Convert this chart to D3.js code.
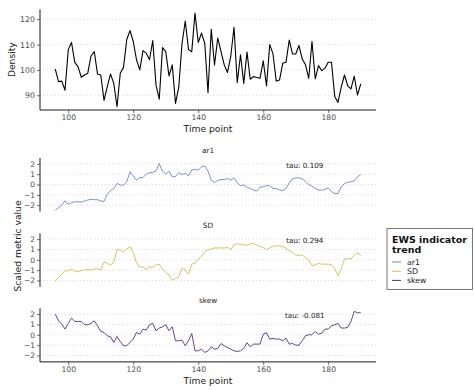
<!DOCTYPE html>
<html><head><meta charset="utf-8">
<script src="https://cdn.jsdelivr.net/npm/d3@7"></script>
<style>
body{margin:0;background:#fff;}
text{font-family:"DejaVu Sans",sans-serif;}
</style></head>
<body><svg id="c" width="474" height="390"></svg>
<script>
const timeStart = 96;
const density = [100.3,95.4,95.6,92,108,110.8,103,101.3,97.1,98,98.7,105.5,107.2,98.4,98,88,93.4,98.4,94.7,85.5,98.7,101,112,115.5,111.2,104,100,107.6,106.6,104,111.6,94,88.5,108.8,107.2,97.6,102,86.8,93.2,110.3,119.3,108,107.2,122.4,110.8,114.5,110.5,91,116,102,112.6,107.2,102,99,105.3,116.8,95,106,94.7,107,96.3,97.4,97,96.7,103.6,93.7,110,106.3,95.6,96,102.6,103,111.8,106.3,106.3,109.6,104.3,102,96.7,111.2,96.5,101.7,99.7,100.7,103,103,89.5,87.2,93.2,98,93.7,92.5,97.6,90.1,94.5];
const ar1 = [-2.47,-2.24,-2.0,-1.57,-1.92,-1.76,-1.67,-1.67,-1.7,-1.6,-1.5,-1.44,-1.47,-1.47,-1.6,-1.63,-0.96,-0.58,-0.38,0.1,-0.06,-0.06,0.26,1.22,0.83,0.42,0.67,0.67,1.0,1.15,1.15,1.31,2.02,1.28,1.0,1.28,0.74,0.77,1.15,0.96,1.09,0.83,1.41,1.47,1.38,1.7,1.79,1.28,0.42,0.19,0.38,0.48,0.48,0.58,0.42,0.64,0.19,-0.13,-0.06,-0.26,-0.38,-0.54,-0.64,-0.26,-0.22,-0.1,-0.13,-0.38,-0.38,-0.54,-0.58,-0.38,0.16,0.54,0.64,0.64,0.54,0.32,0.0,-0.16,-0.38,-0.54,-0.54,-0.48,-0.32,-0.7,-0.87,-0.87,-0.22,0.1,0.22,0.26,0.35,0.74,0.96];
const sd = [-2.03,-1.7,-1.4,-1.06,-1.06,-0.9,-1.1,-1.13,-1.06,-0.97,-0.97,-0.97,-0.9,-0.84,-1.0,-0.19,-0.32,-0.52,-0.26,0.97,0.94,0.77,1.03,1.26,0.71,-0.26,-0.74,-0.68,-0.97,-0.68,-0.74,-0.52,-0.42,-0.9,-1.23,-1.48,-1.97,-1.8,-1.65,-0.8,-0.97,-1.4,-0.42,-0.32,0.06,0.32,0.77,0.97,1.03,1.16,1.13,1.16,1.13,1.23,0.97,1.45,1.55,1.48,1.42,1.42,1.52,1.61,1.42,1.29,1.19,0.97,1.16,1.32,1.35,1.35,1.29,1.1,0.87,0.71,0.45,0.45,0.45,0.23,0.0,-0.58,-0.48,-0.35,-0.42,-0.42,-0.42,-0.48,-0.84,-1.55,-0.9,0.06,0.13,0.06,0.45,0.71,0.39];
const skew = [2.0,1.35,1.03,0.55,1.1,1.61,1.29,1.29,1.29,0.97,0.97,1.1,1.35,0.87,0.32,0.23,-0.1,-0.19,-0.74,-0.16,-0.65,-1.06,-1.06,-0.74,-0.42,0.23,0.06,0.55,0.45,0.97,1.1,0.39,0.65,0.77,0.97,0.39,0.77,-0.58,-0.58,-0.52,-1.06,-0.58,0.13,-1.55,-1.55,-1.39,-1.71,-1.55,-1.16,-1.39,-1.32,-0.84,-1.06,-1.23,-1.39,-1.55,-1.61,-1.55,-1.32,-0.77,-1.16,-0.9,-0.9,-0.9,0.06,0.19,-0.42,-0.35,-0.42,-0.42,-0.58,-0.32,-0.9,-0.84,-1.0,-1.0,-0.58,-0.1,0.0,0.0,0.32,0.06,0.16,0.55,0.55,0.87,0.97,1.1,0.65,0.65,0.71,1.29,2.26,2.13,2.13];
const indicators = ["ar1","SD","skew"];
const indicatorSeries = [ar1, sd, skew];
const taus = ["0.109","0.294","-0.081"];
const colors = ["#6d87c1","#c8c250","#4f3384"];
const xTicks = [100,120,140,160,180];
const densityTicks = [90,100,110,120];
const metricTicks = [-2,-1,0,1,2];

const svg = d3.select("#c");
const L = 40, R = 376;
const x = d3.scaleLinear().domain([91.3,194.7]).range([L,R]);
const tickCol = "#4d4d4d";

function drawPanel(g, y, ticks, top, bottom, tickFmt, fontSize){
  g.selectAll(".grid").data(ticks).join("line")
    .attr("x1",L).attr("x2",R).attr("y1",d=>y(d)).attr("y2",d=>y(d))
    .attr("stroke","#cfcfcf").attr("stroke-width",0.8).attr("stroke-dasharray","1.2,2.4");
  const ya = d3.axisLeft(y).tickValues(ticks).tickSize(3).tickPadding(2).tickFormat(tickFmt);
  const ag = g.append("g").attr("transform",`translate(${L},0)`).call(ya);
  ag.select(".domain").attr("d",`M0,${top}V${bottom}`).attr("stroke","#000").attr("stroke-width",0.9);
  ag.selectAll(".tick line").attr("stroke","#333").attr("stroke-width",0.7);
  ag.selectAll(".tick text").attr("fill",tickCol).style("font-size",fontSize+"px").style("font-family","DejaVu Sans");
}
function drawXAxis(g, bottom){
  const xa = d3.axisBottom(x).tickValues(xTicks).tickSize(3).tickPadding(2);
  const ag = g.append("g").attr("transform",`translate(0,${bottom})`).call(xa);
  ag.select(".domain").attr("d",`M${L},0H${R}`).attr("stroke","#000").attr("stroke-width",0.9);
  ag.selectAll(".tick line").attr("stroke","#333").attr("stroke-width",0.7);
  ag.selectAll(".tick text").attr("fill",tickCol).style("font-size","7.6px").style("font-family","DejaVu Sans");
  g.append("text").attr("x",(L+R)/2).attr("y",bottom+22.3).attr("text-anchor","middle")
    .style("font-size","9.2px").attr("fill","#222").text("Time point");
}

// top panel
const topTop = 9.3, topBot = 110;
const yD = d3.scaleLinear().domain([84.2,123.9]).range([topBot, topTop]);
const g0 = svg.append("g");
drawPanel(g0, yD, densityTicks, topTop, topBot, d3.format("d"), 7.8);
g0.append("path").datum(density)
  .attr("d", d3.line().x((d,i)=>x(timeStart+i)).y(d=>yD(d)))
  .attr("fill","none").attr("stroke","#000").attr("stroke-width",1.1).attr("stroke-linejoin","round");
drawXAxis(g0, topBot);
g0.append("text").attr("transform",`translate(15,${(topTop+topBot)/2}) rotate(-90)`)
  .attr("text-anchor","middle").style("font-size","9.2px").attr("fill","#222").text("Density");

// facets
const facetTops = [158, 233.3, 308.3];
const facetH = 53.6;
indicators.forEach((name, k) => {
  const t = facetTops[k], b = t + facetH;
  const y = d3.scaleLinear().domain([-2.62,2.56]).range([b,t]);
  const g = svg.append("g");
  drawPanel(g, y, metricTicks, t, b, d3.format("d"), 7.5);
  g.append("text").attr("x",(L+R)/2).attr("y",t-5.5).attr("text-anchor","middle")
    .style("font-size","7.3px").attr("fill","#222").text(name);
  g.append("path").datum(indicatorSeries[k])
    .attr("d", d3.line().x((d,i)=>x(timeStart+i)).y(d=>y(d)))
    .attr("fill","none").attr("stroke",colors[k]).attr("stroke-width",0.9).attr("stroke-linejoin","round");
  g.append("text").attr("x",x(172.8)).attr("y",y(1.85)+2.5).attr("text-anchor","middle")
    .style("font-size","7.2px").attr("fill","#222").text("tau: "+taus[k]);
  if (k===2) drawXAxis(g, b);
});
svg.append("text").attr("transform",`translate(21,246) rotate(-90)`)
  .attr("text-anchor","middle").style("font-size","9.2px").attr("fill","#222").text("Scaled metric value");

// legend
const lg = svg.append("g");
lg.append("rect").attr("x",387).attr("y",228.5).attr("width",85.5).attr("height",61)
  .attr("fill","#fff").attr("stroke","#555").attr("stroke-width",0.8);
lg.append("text").attr("x",392).attr("y",243).style("font-size","9.5px").style("font-weight","bold").attr("fill","#111").text("EWS indicator");
lg.append("text").attr("x",392).attr("y",252.5).style("font-size","9.5px").style("font-weight","bold").attr("fill","#111").text("trend");
indicators.forEach((name,k)=>{
  const cy = 262 + k*9.2;
  lg.append("line").attr("x1",392).attr("x2",401).attr("y1",cy).attr("y2",cy)
    .attr("stroke",colors[k]).attr("stroke-width",1);
  lg.append("text").attr("x",407).attr("y",cy+2.7).style("font-size","7.8px").attr("fill","#222").text(name);
});
</script></body></html>
